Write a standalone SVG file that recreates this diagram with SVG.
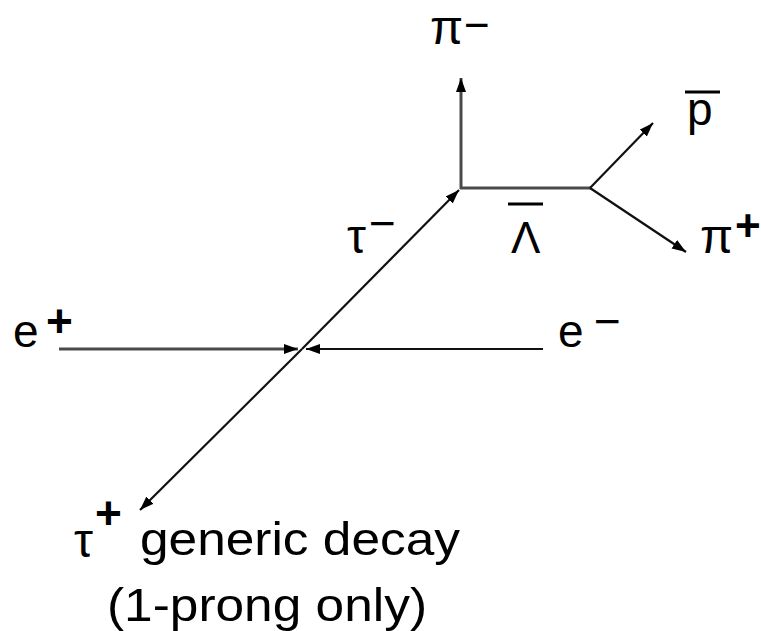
<svg xmlns="http://www.w3.org/2000/svg" width="761" height="631" viewBox="0 0 761 631">
<style>
text{font-family:"Liberation Sans",Arial,sans-serif;font-size:46px;fill:#000}
.gk{font-size:48px}
.sup{font-weight:bold}
.ln{stroke:#111;stroke-width:2.2;fill:none}
.gl{stroke:#4a4a4a;stroke-width:3;fill:none}
.bar{stroke:#000;stroke-width:3}
</style>
<defs>
<marker id="ah" markerUnits="userSpaceOnUse" markerWidth="16" markerHeight="12" refX="14" refY="5" orient="auto">
<path d="M0,0 L14,5 L0,10 Z" fill="#000"/>
</marker>
</defs>
<rect width="761" height="631" fill="#fff"/>
<g id="connectors">
<line class="gl" x1="59" y1="349" x2="298" y2="349" marker-end="url(#ah)"/>
<line class="ln" x1="543" y1="349" x2="306" y2="349" marker-end="url(#ah)"/>
<line class="ln" x1="302" y1="349" x2="459" y2="190" marker-end="url(#ah)"/>
<line class="ln" x1="302" y1="349" x2="140" y2="510" marker-end="url(#ah)"/>
<line class="gl" x1="461" y1="189" x2="461" y2="78" marker-end="url(#ah)"/>
<line class="gl" x1="460" y1="188" x2="591" y2="188"/>
<line class="ln" x1="590" y1="188" x2="653" y2="123" marker-end="url(#ah)"/>
<line class="ln" x1="590" y1="188" x2="686" y2="252" marker-end="url(#ah)"/>
</g>
<g id="e-plus"><text x="13" y="347">e</text><text class="sup" x="46" y="337">+</text></g>
<g id="e-minus"><text x="558" y="347">e</text><text x="594" y="337">−</text></g>
<g id="pi-minus"><text class="gk" x="430" y="44">π</text><text x="464" y="40" style="font-size:44px">−</text></g>
<g id="pi-plus"><text class="gk" x="700" y="253">π</text><text class="sup" x="735" y="241" style="font-size:44px">+</text></g>
<g id="tau-minus"><text class="gk" x="347" y="253">τ</text><text x="369" y="239">−</text></g>
<g id="lambda-bar"><line class="bar" x1="508" y1="204" x2="543" y2="204"/><text x="511" y="253" style="font-size:44px">Λ</text></g>
<g id="p-bar"><line class="bar" x1="685" y1="92" x2="720" y2="92"/><text x="687" y="125">p</text></g>
<g id="tau-plus"><text class="gk" x="74" y="557">τ</text><text class="sup" x="95" y="529">+</text>
<text x="140" y="555" textLength="320" lengthAdjust="spacingAndGlyphs">generic decay</text>
<text x="107" y="621" textLength="320" lengthAdjust="spacingAndGlyphs">(1-prong only)</text></g>
</svg>
